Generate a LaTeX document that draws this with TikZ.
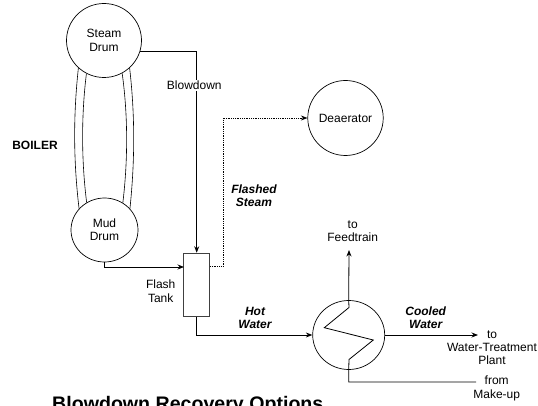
\documentclass[tikz,border=0pt]{standalone}
\usepackage{fontspec}
\setmainfont{Liberation Sans}
\usetikzlibrary{
    arrows.meta,                      % Stealth
    shapes.geometric                  % ellipse
}
\begin{document}
\begin{tikzpicture}[
      x=1pt, y=-1pt,
      font=\fontsize{12}{13.3}\selectfont,
      >={Stealth[length=6.5pt,width=5pt]},
      drum/.style ={draw, ellipse, line width=0.7pt, inner sep=0pt, align=center},
      tank/.style ={draw, line width=0.9pt, black!75, minimum width=26pt, minimum height=63pt, inner sep=0pt},
      txt/.style  ={align=center, inner sep=0pt},
      strm/.style ={txt, font=\fontsize{12}{13.3}\selectfont\bfseries\itshape},
      df/.style   ={->, line width=0.8pt},
      ln/.style   ={line width=0.8pt},
      fs/.style   ={->, line width=0.8pt, densely dotted},
      tube/.style ={line width=0.6pt}
    ]
    \useasboundingbox (0,0) rectangle (538,406);
    \clip (0,0) rectangle (538,406);

    % --- Equipos ---
    \node[drum, minimum width=75pt, minimum height=74pt] (steam) at (104,40.5) {Steam\\Drum};
    \node[drum, minimum width=67pt, minimum height=64pt] (mud)   at (104.5,230) {Mud\\Drum};
    \node[drum, minimum width=75pt, minimum height=75pt] (dea)   at (345.5,118) {Deaerator};
    \node[tank] (flash) at (196.7,284.7) {};
    \node[drum, minimum width=72pt, minimum height=69pt] (hx)    at (348.7,335) {};

    % --- Extremos libres ---
    \coordinate (flash_in)  at (184,267);
    \coordinate (flash_out) at (210,266);
    \coordinate (feed_end)  at (349,250);
    \coordinate (wt_end)    at (478,335);
    \coordinate (mk_end)    at (476,382);

    % --- Tubos de la caldera ---
    \draw[tube] (steam.-133) .. controls (73.3,115) and (73.3,160) .. (mud.140);
    \draw[tube] (steam.-118) .. controls (81.3,115) and (81.3,160) .. (mud.123);
    \draw[tube] (steam.-61) .. controls (128,115) and (128,160) .. (mud.56);
    \draw[tube] (steam.-47) .. controls (135,115) and (135,160) .. (mud.40);

    % --- Flujos ---
    \draw[df] (steam.-16) -| (flash.north);
    \draw[df] (mud.south) |- (flash_in);
    \draw[fs] (flash_out) -- ++(13.5,0) |- (dea.west);
    \draw[df] (flash.south) |- (hx.west);
    \draw[df] (hx.north) -- (feed_end);
    \draw[df] (hx.east) -- (wt_end);
    \draw[ln] (hx.north) -- (349,307.5) -- (324.3,327.7) -- (373.3,340) -- (349,359.5) -- (hx.south) |- (mk_end);

    % --- Etiquetas ---
    \node[txt, fill=white, inner ysep=1pt] (blow) at (194.3,85.7) {Blowdown};
    \node[txt] (boiler) at (35,145.7) {\bfseries BOILER};
    \node[txt] (ftank)  at (160.7,291.3) {Flash\\Tank};
    \node[strm] (flashed) at (254,196) {Flashed\\Steam};
    \node[strm] (hot)     at (255,318) {Hot\\Water};
    \node[strm] (cooled)  at (425.7,317.5) {Cooled\\Water};
    \node[txt] (feed)  at (352.7,231) {to\\Feedtrain};
    \node[txt] (wt)    at (492,347.5) {to\\Water-Treatment\\Plant};
    \node[txt] (mk)    at (496.7,388.5) {from\\Make-up};
    \node[txt, anchor=base west, font=\fontsize{19.6}{21}\selectfont\bfseries] (title) at (52,410.5) {Blowdown Recovery Options};
\end{tikzpicture}
\end{document}
